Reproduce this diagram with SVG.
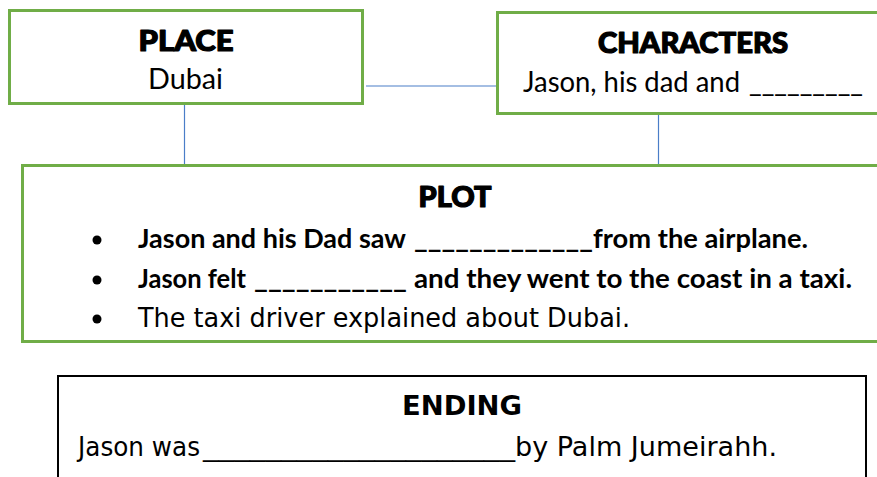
<svg xmlns="http://www.w3.org/2000/svg" width="877" height="477" viewBox="0 0 877 477">
  <style>
    .box { fill: #ffffff; stroke: #70AD47; stroke-width: 3; }
    .endbox { fill: #ffffff; stroke: #000000; stroke-width: 2; }
    .link { stroke: #4A7EC8; stroke-width: 1.2; fill: none; }
    .head { font-family: "Lato", "DejaVu Sans", sans-serif; font-weight: 900; font-size: 28px; fill: #000; stroke: #000; stroke-width: 1.2; stroke-linejoin: round; }
    .body { font-family: "Lato", "Open Sans", sans-serif; font-weight: 700; font-size: 27px; fill: #000; }
    .plain { font-family: "Lato", "Open Sans", sans-serif; font-weight: 400; font-size: 28px; fill: #000; }
    .tah { font-family: "DejaVu Sans", "Liberation Sans", sans-serif; font-size: 26px; fill: #000; }
    .tahb { font-family: "DejaVu Sans", "Liberation Sans", sans-serif; font-weight: 700; font-size: 27px; fill: #000; }
  </style>

  <rect width="877" height="477" fill="#ffffff"/>

  <!-- connectors -->
  <g id="connectors">
    <line class="link" x1="366" y1="86" x2="497" y2="86"/>
    <line class="link" x1="184.5" y1="105" x2="184.5" y2="165"/>
    <line class="link" x1="658.5" y1="114" x2="658.5" y2="165"/>
  </g>

  <g id="place">
    <rect class="box" x="9.5" y="10.5" width="353" height="93"/>
    <text class="head" x="186" y="51" text-anchor="middle" textLength="95" lengthAdjust="spacingAndGlyphs">PLACE</text>
    <text class="plain" x="185.5" y="89" text-anchor="middle" textLength="75" lengthAdjust="spacingAndGlyphs">Dubai</text>
  </g>

  <g id="characters">
    <rect class="box" x="497.5" y="12.5" width="385" height="101"/>
    <text class="head" x="693" y="53" text-anchor="middle" textLength="190" lengthAdjust="spacingAndGlyphs">CHARACTERS</text>
    <text class="plain" x="523" y="91.5" textLength="217" lengthAdjust="spacingAndGlyphs">Jason, his dad and</text>
    <text class="plain" x="749" y="91.5" textLength="114" lengthAdjust="spacingAndGlyphs">_________</text>
  </g>

  <g id="plot">
    <rect class="box" x="22.5" y="165.5" width="862" height="176"/>
    <text class="head" x="455" y="207" text-anchor="middle" textLength="73" lengthAdjust="spacingAndGlyphs">PLOT</text>
    <circle cx="97" cy="240" r="4.5" fill="#000"/>
    <circle cx="97" cy="280" r="4.5" fill="#000"/>
    <circle cx="97" cy="319" r="4.5" fill="#000"/>
    <text class="body" x="138" y="248" textLength="268" lengthAdjust="spacingAndGlyphs">Jason and his Dad saw</text>
    <text class="body" x="414" y="248" textLength="179" lengthAdjust="spacingAndGlyphs">_____________</text>
    <text class="body" x="593" y="248" textLength="215" lengthAdjust="spacingAndGlyphs">from the airplane.</text>
    <text class="body" x="138" y="288" textLength="108" lengthAdjust="spacingAndGlyphs">Jason felt</text>
    <text class="body" x="254" y="288" textLength="153" lengthAdjust="spacingAndGlyphs">___________</text>
    <text class="body" x="414" y="288" textLength="438" lengthAdjust="spacingAndGlyphs">and they went to the coast in a taxi.</text>
    <text class="tah" x="138" y="327" textLength="492" lengthAdjust="spacingAndGlyphs">The taxi driver explained about Dubai.</text>
  </g>

  <g id="ending">
    <rect class="endbox" x="58" y="376" width="808" height="110"/>
    <text class="tahb" x="462" y="415" text-anchor="middle" textLength="120" lengthAdjust="spacingAndGlyphs">ENDING</text>
    <text class="tah" x="78" y="456" textLength="122" lengthAdjust="spacingAndGlyphs">Jason was</text>
    <text class="tah" x="203" y="456" textLength="312" lengthAdjust="spacingAndGlyphs">____________________</text>
    <text class="tah" x="515" y="456" textLength="262" lengthAdjust="spacingAndGlyphs">by Palm Jumeirahh.</text>
  </g>
</svg>
